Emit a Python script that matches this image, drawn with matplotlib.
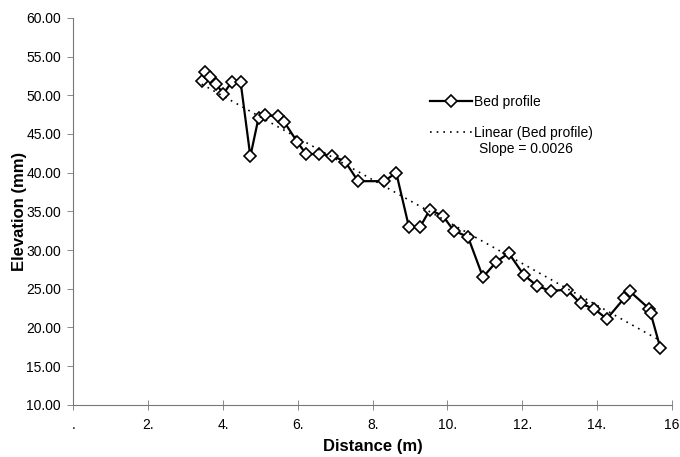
import numpy as np
import matplotlib.pyplot as plt

plt.rcParams['font.family'] = ['Liberation Sans', 'DejaVu Sans']

# Bed profile measurements
distance = [3.43, 3.52, 3.65, 3.82, 4.01, 4.23, 4.47, 4.73, 4.95, 5.13,
            5.47, 5.63, 5.98, 6.22, 6.57, 6.92, 7.27, 7.61, 8.31, 8.63,
            8.97, 9.27, 9.53, 9.88, 10.17, 10.55, 10.95, 11.31, 11.64, 12.04,
            12.39, 12.76, 13.19, 13.56, 13.93, 14.26, 14.73, 14.87, 15.40, 15.43,
            15.69]
elevation = [51.9, 53.0, 52.4, 51.4, 50.2, 51.7, 51.7, 42.1, 47.1, 47.4,
             47.3, 46.6, 44.0, 42.4, 42.4, 42.2, 41.4, 38.9, 38.9, 40.0,
             33.0, 33.0, 35.2, 34.4, 32.5, 31.7, 26.5, 28.5, 29.6, 26.8,
             25.4, 24.7, 24.9, 23.1, 22.4, 21.1, 23.8, 24.7, 22.4, 21.9,
             17.4]

y_ticks = [10, 15, 20, 25, 30, 35, 40, 45, 50, 55, 60]
x_ticks = [0, 2, 4, 6, 8, 10, 12, 14, 16]
x_tick_labels = ['.', '2.', '4.', '6.', '8.', '10.', '12.', '14.', '16']

fig = plt.figure(figsize=(6.8, 4.57), dpi=100)
ax = fig.add_axes([0.108, 0.114, 0.88, 0.847])

# linear trend of the profile
coef = np.polyfit(distance, elevation, 1)
xs = np.array([min(distance), max(distance)])

ax.plot(distance, elevation, color='black', linewidth=1.6,
        marker='D', markersize=6, markerfacecolor='white',
        markeredgecolor='black', markeredgewidth=1.2, label='Bed profile')
ax.plot(xs, np.polyval(coef, xs), color='black', linewidth=1.2,
        linestyle=(0, (1, 3)), label='Linear (Bed profile)')

ax.set_xlim(0, 16)
ax.set_ylim(10, 60)
ax.set_yticks(y_ticks)
ax.set_yticklabels(['%.2f' % v for v in y_ticks], fontsize=10)
ax.set_xticks(x_ticks)
ax.set_xticklabels(x_tick_labels, fontsize=10)

for side in ['top', 'right']:
    ax.spines[side].set_visible(False)
for side in ['left', 'bottom']:
    ax.spines[side].set_color('#777777')
    ax.spines[side].set_linewidth(0.8)

ax.tick_params(axis='y', direction='out', length=4, width=0.6,
               color='#777777', pad=5)
ax.tick_params(axis='x', direction='inout', length=7, width=0.6,
               color='#777777', pad=6)

ax.set_xlabel('Distance (m)', fontsize=12, fontweight='bold', labelpad=5)
ax.set_ylabel('Elevation (mm)', fontsize=12, fontweight='bold', labelpad=-1)

leg = ax.legend(loc='upper left', bbox_to_anchor=(0.575, 0.832),
                frameon=False, fontsize=10, handlelength=3.0,
                labelspacing=1.2, handletextpad=0.2)

ax.text(0.677, 0.66, 'Slope = 0.0026', transform=ax.transAxes,
        fontsize=10, va='center', ha='left')

fig.savefig('out.png', dpi=100)
